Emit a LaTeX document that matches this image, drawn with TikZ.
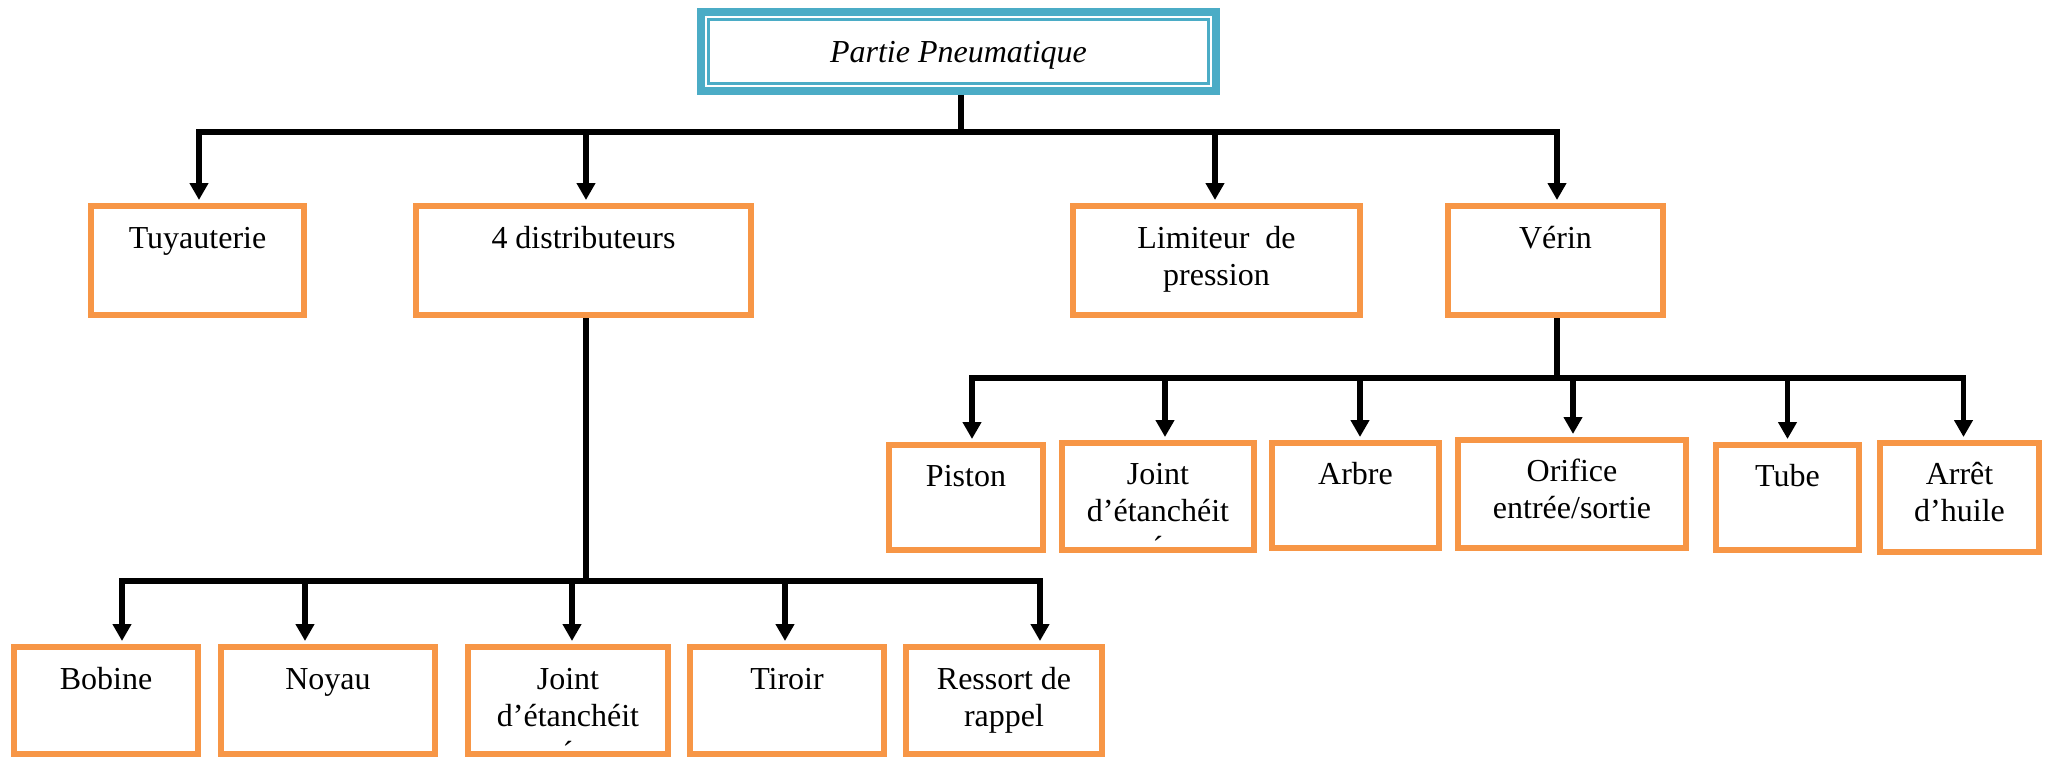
\documentclass[tikz,border=0pt]{standalone}
\usepackage{fontspec}
\setmainfont{Liberation Serif}
\usetikzlibrary{arrows.meta}
\definecolor{orng}{HTML}{F79646}
\definecolor{aqua}{HTML}{4BACC6}
% name, x0, x1, y0, y1 (outer edges, px), baseline offset from top, text
\newcommand\obox[7]{%
  \node[box, text height={(#6-3)*1pt}, text depth={(#5-#4-#6-3)*1pt}] (#1)
    at ({(#2+#3)/2},{(#4+#5)/2})
    {\parbox[t]{\dimexpr #3pt-#2pt-6pt\relax}{\centering #7}};}
\begin{document}
\begin{tikzpicture}[x=1pt,y=-1pt,
  every node/.style={font=\fontsize{32}{37}\selectfont},
  box/.style={draw=orng, line width=6pt, inner sep=0pt, rectangle},
  conn/.style={line width=5.2pt},
  arr/.style={conn, -{Triangle[width=18pt,length=17pt]}, shorten >=3pt}]
\fill[white] (0,0) rectangle (2051,757);
\useasboundingbox (0,0) rectangle (2051,757);

% top box
\node[draw=aqua, line width=8pt, inner sep=0pt, text height=51pt, text depth=28pt] (top) at (958.5,51.5)
  {\parbox[t]{515pt}{\centering\itshape Partie Pneumatique}};
\draw[aqua, line width=3pt] ([shift={(11.5,11.5)}]top.north west) rectangle ([shift={(-11.5,-11.5)}]top.south east);

% row 1
\obox{tuy}{88}{307}{203}{318}{45}{Tuyauterie}
\obox{dist}{413}{754}{203}{318}{45}{4 distributeurs}
\obox{lim}{1070}{1363}{203}{318}{45}{Limiteur~~de\\pression}
\obox{ver}{1445}{1666}{203}{318}{45}{Vérin}

% row 2
\obox{pis}{886}{1046}{442}{553}{44}{Piston}
\obox{jt1}{1059}{1257}{440}{553}{44}{Joint\\d’étanchéit\\´}
\obox{arb}{1269}{1442}{440}{551}{44}{Arbre}
\obox{ori}{1455}{1689}{437}{551}{44}{Orifice\\entrée/sortie}
\obox{tub}{1713}{1862}{442}{553}{44}{Tube}
\obox{arh}{1877}{2042}{440}{555}{44}{Arrêt\\d’huile}

% row 3
\obox{bob}{11}{201}{644}{757}{45}{Bobine}
\obox{noy}{218}{438}{644}{757}{45}{Noyau}
\obox{jt2}{465}{671}{644}{757}{45}{Joint\\d’étanchéit\\´}
\obox{tir}{687}{887}{644}{757}{45}{Tiroir}
\obox{res}{903}{1105}{644}{757}{45}{Ressort de\\rappel}

% connectors level 1
\coordinate (j1) at (961,132);
\draw[conn] ([xshift=2.5pt]top.south) -- (j1);
\draw[arr] (j1) -| ([xshift=1.5pt]tuy.north);
\draw[arr] (j1) -| ([xshift=2.5pt]dist.north);
\draw[arr] (j1) -| ([xshift=-1.5pt]lim.north);
\draw[arr] (j1) -| ([xshift=1.5pt]ver.north);

% connectors level 2 (Verin)
\coordinate (j2) at (1557,378);
\draw[conn] ([xshift=1.5pt]ver.south) -- (j2);
\draw[arr] (j2) -| ([xshift=6pt]pis.north);
\draw[arr] (j2) -| ([xshift=7pt]jt1.north);
\draw[arr] (j2) -| ([xshift=4.5pt]arb.north);
\draw[arr] (j2) -| ([xshift=1pt]ori.north);
\draw[arr] (j2) -| (tub.north);
\draw[arr] (j2) -| ([xshift=4pt]arh.north);

% connectors level 2 (distributeurs)
\coordinate (j3) at (586,581);
\draw[conn] ([xshift=2.5pt]dist.south) -- (j3);
\draw[arr] (j3) -| ([xshift=16pt]bob.north);
\draw[arr] (j3) -| ([xshift=-23pt]noy.north);
\draw[arr] (j3) -| ([xshift=4pt]jt2.north);
\draw[arr] (j3) -| ([xshift=-2pt]tir.north);
\draw[arr] (j3) -| ([xshift=36pt]res.north);
\end{tikzpicture}
\end{document}
